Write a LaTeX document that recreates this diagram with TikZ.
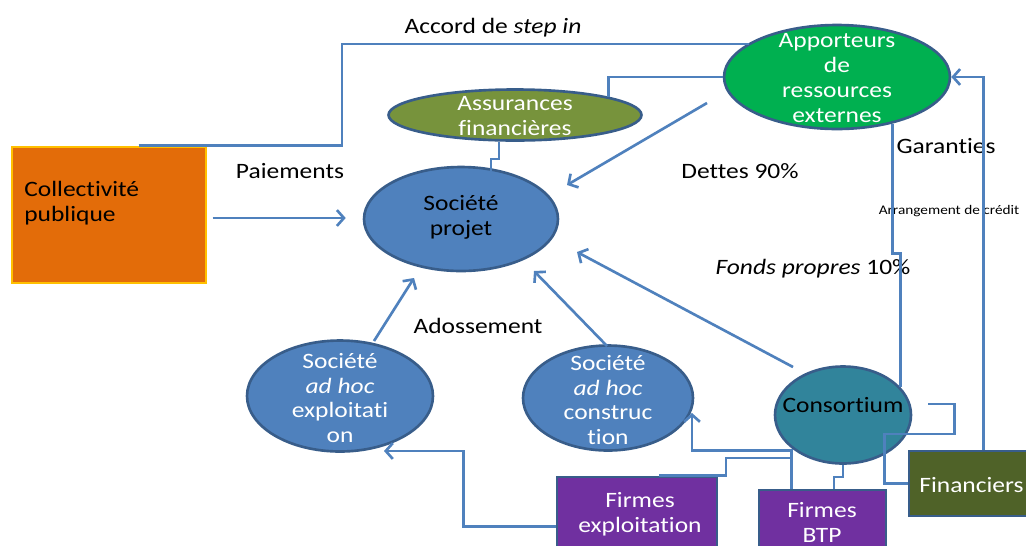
\documentclass[tikz,border=0pt]{standalone}
\usepackage{fontspec}
\setmainfont{Carlito}[FakeStretch=1.16,Ligatures=NoCommon]
\usetikzlibrary{shapes.geometric,arrows.meta,calc}
\definecolor{lineblue}{HTML}{4F81BD}
\definecolor{ellborder}{HTML}{385D8A}
\definecolor{appgreen}{HTML}{00B050}
\definecolor{assgreen}{HTML}{77933C}
\definecolor{socblue}{HTML}{4F81BD}
\definecolor{consteal}{HTML}{31849B}
\definecolor{firmpurple}{HTML}{7030A0}
\definecolor{finolive}{HTML}{4F6228}
\definecolor{collorange}{HTML}{E36C09}
\definecolor{collgold}{HTML}{FFC000}
\begin{document}
\begin{tikzpicture}[x=0.02cm,y=-0.02cm,
  every node/.style={font=\fontsize{12.5}{14.2}\selectfont, inner sep=0pt},
  conn/.style={draw=lineblue,line width=1.5pt},
  arr/.style={conn,-{Straight Barb[length=4pt,width=9pt]}},
  ell/.style={ellipse,draw=ellborder,line width=1.5pt},
  box/.style={rectangle,draw=ellborder,line width=1.5pt},
  wtxt/.style={text=white,align=center},
  btxt/.style={text=black,align=center}]
\clip (0,0) rectangle (1026,545);
\fill[white] (0,0) rectangle (1026,545);

% shapes
\node[rectangle,draw=collgold,line width=1.5pt,fill=collorange,minimum width=3.88cm,minimum height=2.72cm] (coll) at (109,215) {};
\node[ell,fill=appgreen,minimum width=4.52cm,minimum height=2.08cm] (app) at (837,77) {};
\node[ell,fill=assgreen,minimum width=5.06cm,minimum height=1.02cm] (ass) at (515,115) {};
\node[ell,fill=socblue,minimum width=3.88cm,minimum height=2.08cm] (sp) at (461,219) {};
\node[ell,fill=socblue,minimum width=3.72cm,minimum height=2.22cm] (ex) at (340,396) {};
\node[ell,fill=socblue,minimum width=3.40cm,minimum height=2.10cm] (co) at (608,398) {};
\node[ell,fill=consteal,minimum width=2.72cm,minimum height=1.94cm] (cs) at (843,415) {};
\node[box,fill=firmpurple,minimum width=3.2cm,minimum height=1.76cm] (fexp) at (637,521) {};
\node[box,fill=firmpurple,minimum width=2.54cm,minimum height=1.5cm] (btp) at (822.5,527.5) {};
\node[box,fill=finolive,minimum width=2.72cm,minimum height=1.3cm] (fin) at (977,483.5) {};

% texts in shapes
\node[btxt,align=left,anchor=west] (tcoll) at (24,203) {Collectivité\\publique};
\node[wtxt] (tapp) at (837,78) {Apporteurs\\de\\ressources\\externes};
\node[wtxt] (tass) at (515,116) {Assurances\\financières};
\node[btxt] (tsp) at (461,217) {Société\\projet};
\node[wtxt] (tex) at (340,398) {Société\\\textit{ad hoc}\\exploitati\\on};
\node[wtxt] (tco) at (608,400) {Société\\\textit{ad hoc}\\construc\\tion};
\node[btxt] (tcs) at (843,405) {Consortium};
\node[wtxt] (tfexp) at (640,514) {Firmes\\exploitation};
\node[wtxt] (tbtp) at (822,522) {Firmes\\BTP};
\node[text=white,anchor=west] (tfin) at (919,485) {Financiers};

% labels
\node[btxt] (lacc) at (493,28) {Accord de \textit{step in}};
\node[btxt] (lpai) at (290,171) {Paiements};
\node[btxt] (ldet) at (740,171) {Dettes 90\%};
\node[btxt] (lgar) at (946,146) {Garanties};
\node[btxt,font=\fontsize{7.5}{9}\selectfont] (larr) at (949,211) {Arrangement de crédit};
\node[btxt] (lfp) at (813,269) {\textit{Fonds propres} 10\%};
\node[btxt] (lado) at (478,326) {Adossement};

% coordinates for free ends
\coordinate (a1) at (342,44);
\coordinate (e1) at (384,451);
\coordinate (c1) at (692,413);

% connectors
\draw[conn] ($(coll.north west)+(128,0)$) -| (a1) -- (a1 -| app.159);
\draw[conn] (app.west) -| (ass.11);
\draw[conn] ($(ass.south)+(-16,0)$) -- ++(0,17) -- ++(-8,0) -- ++(0,12);
\draw[arr] ($(sp.west)+(-150,-1)$) -- ($(sp.west)+(-17,-1)$);
\draw[arr] ($(app.center)+(-130,26)$) -- ($(sp.center)+(106,-34)$);
\draw[arr] ($(cs.center)+(-50,-48)$) -- ($(sp.center)+(116,33)$);
\draw[arr] ($(ex.center)+(34,-55)$) -- ($(sp.center)+(-47,59)$);
\draw[arr] ($(co.center)+(-1,-52)$) -- ($(sp.center)+(73,52)$);
\draw[conn] (app.-40) -- ++(0,130) -| (cs.26);
\draw[arr] ($(fin.north west)+(76,0)$) |- (app.east);
\draw[conn] ($(cs.east)+(16,-11)$) -- ++(26,0) -- ++(0,30) -- ++(-70,0) |- (fin.west);
\draw[conn] (cs.south) -- ++(0,12) -| ($(btp.north)+(11.5,0)$);
\draw[arr] ($(btp.north west)+(34,0)$) -- ++(0,-38) -| (c1);
\draw[conn] ($(fexp.north)+(22,0)$) -| (726,458) -- (793,458);
\draw[arr] ($(fexp.north west)+(0,51)$) -- ++(-92,0) |- (e1);
\end{tikzpicture}
\end{document}
